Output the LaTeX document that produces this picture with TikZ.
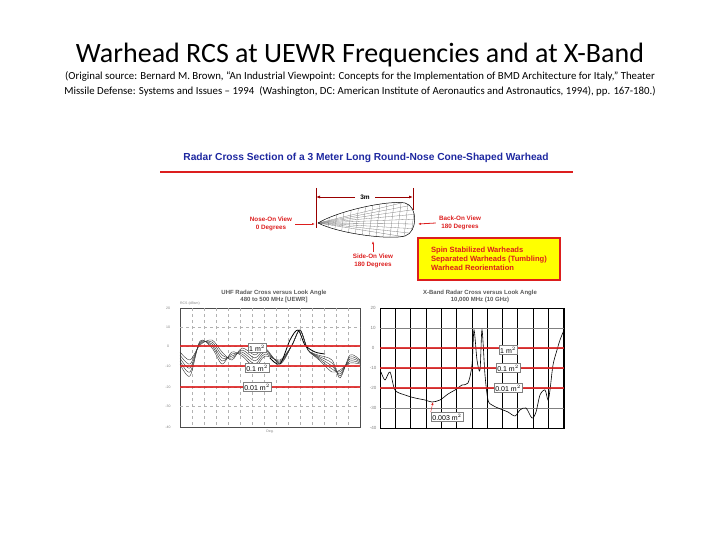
\documentclass[tikz,border=0pt]{standalone}
\usepackage{fontspec}
\setmainfont{Carlito}
\newfontfamily\arial{Liberation Sans}
\usetikzlibrary{arrows.meta}
\definecolor{ttl}{RGB}{30,40,160}
\definecolor{rd}{RGB}{220,30,30}
\definecolor{bx}{RGB}{255,255,0}
\begin{document}
\begin{tikzpicture}[x=1pt,y=-1pt,
 lab/.style={font=\arial\bfseries\fontsize{6.3}{7.5}\selectfont,text=rd,align=center,inner sep=0},
 hdr/.style={font=\arial\bfseries\fontsize{6}{7}\selectfont,text=gray!70!black,align=center,inner sep=0},
 rline/.style={rd,line width=2.2pt,opacity=0.85},
 tag/.style={draw=gray,fill=white,font=\arial\fontsize{7}{8}\selectfont,inner sep=1.5pt},
 grid/.style={black,line width=0.5pt},
 ax/.style={font=\arial\fontsize{3.5}{4}\selectfont,inner sep=0,text=gray}]
\useasboundingbox (0,0) rectangle (720,540);
\node (t) at (360,55) {\fontsize{28}{30}\selectfont Warhead RCS at UEWR Frequencies and at X-Band};
\node (s) at (360,84) [align=center,font=\fontsize{10.8}{15}\selectfont] {(Original source: Bernard M. Brown, ``An Industrial Viewpoint: Concepts for the Implementation of BMD Architecture for Italy,'' Theater\\Missile Defense: Systems and Issues -- 1994 \ (Washington, DC: American Institute of Aeronautics and Astronautics, 1994), pp. 167-180.)};
\node (bt) at (366,158) [font=\arial\bfseries\fontsize{10.2}{12}\selectfont,text=ttl] {Radar Cross Section of a 3 Meter Long Round-Nose Cone-Shaped Warhead};
\draw[rd,line width=1.5pt] (160,172) -- (573,172);
\coordinate (d1) at (316,197); \coordinate (d2) at (413,197);
\draw[line width=1pt,red!60!black] (316,188) -- (316,228) (413,188) -- (413,210);
\draw[-{Latex[length=4pt]},red!60!black,line width=0.8pt] (355,197) -- (d1);
\draw[-{Latex[length=4pt]},red!60!black,line width=0.8pt] (375,197) -- (d2);
\node (m) at (365,197) [font=\arial\bfseries\fontsize{6.5}{7}\selectfont,fill=white,inner sep=1pt] {3m};
\begin{scope}
\clip (318,223) .. controls (340,210) and (390,200) .. (405,203) .. controls (418,206) and (418,232) .. (405,236) .. controls (390,240) and (340,234) .. (318,223);
\foreach \i in {0,...,14} \draw[gray,line width=0.3pt] (318+7*\i,195) -- (312+7*\i,245);
\foreach \j in {-4,...,4} \draw[gray,line width=0.3pt] (318,223) -- (418,219+5*\j);
\end{scope}
\draw[line width=0.5pt] (318,223) .. controls (340,210) and (390,200) .. (405,203) .. controls (418,206) and (418,232) .. (405,236) .. controls (390,240) and (340,234) .. (318,223);
\node[lab] (n) at (271,224) {Nose-On View\\0 Degrees};
\draw[-{Latex[length=3pt]},rd,line width=0.8pt] (n.east) ++(3,0) -- (315,224);
\node[lab] (b) at (460,223) {Back-On View\\180 Degrees};
\draw[-{Latex[length=3pt]},rd,line width=0.8pt] (b.west) ++(-3,0) -- (418,224);
\node[lab] (so) at (373,261) {Side-On View\\180 Degrees};
\draw[-{Latex[length=3pt]},rd,line width=0.8pt] (so.north) ++(0,-2) -- (373,241);
\node (yb) at (489,259) [draw=rd,line width=1.5pt,fill=bx,minimum width=142pt,minimum height=42pt,inner sep=0] {};
\node at (yb) [font=\arial\bfseries\fontsize{7.6}{9}\selectfont,text=rd,align=left] {Spin Stabilized Warheads\\Separated Warheads (Tumbling)\\Warhead Reorientation};
\node[hdr] (h1) at (274,296) {UHF Radar Cross versus Look Angle\\480 to 500 MHz [UEWR]};
\node[hdr] (h2) at (480,296) {X-Band Radar Cross versus Look Angle\\10,000 MHz (10 GHz)};
\draw[black!70,line width=0.4pt] (180,308) rectangle (360,427);
\foreach \i in {1,...,14} \draw[gray!60,dashed,line width=0.3pt] (180+12*\i,308) -- (180+12*\i,427);
\foreach \y in {327,346,366,387,406} \draw[gray!60,dashed,line width=0.3pt] (180,\y) -- (360,\y);
\foreach \v/\y in {20/308,10/327,0/346,-10/366,-20/387,-30/406,-40/427} \node[ax] at (168,\y) {\v};
\node[ax] at (190,304) {RCS (dBsm)};
\node[ax] at (270,432) {Deg.};
\foreach \k in {0,...,4}
\draw[black!80,line width=0.4pt] plot[smooth] coordinates {(180,{352+3*\k}) (190,{360+4*\k}) (200,{345-1*\k}) (212,{340+2*\k}) (222,{352+3*\k}) (232,{360-2*\k}) (242,{348+2*\k}) (255,{355+3*\k}) (265,{348+2*\k}) (280,{364-\k}) (292,345) (300,330) (308,350) (318,{355+\k}) (332,{360+3*\k}) (340,{378-2*\k}) (350,{355+2*\k}) (360,{360+\k})};
\draw[black,line width=0.8pt] plot[smooth] coordinates {(270,358) (280,364) (290,340) (298,330) (305,345) (315,352) (325,354)};
\draw[rline] (180,346) -- (360,346) (180,366) -- (360,366) (180,387) -- (360,387);
\node[tag] at (257,348) {1 m$^2$};
\node[tag] at (257,368) {0.1 m$^2$};
\node[tag] at (257,387) {0.01 m$^2$};
\draw[black,line width=0.6pt] (380,308) rectangle (564,428);
\foreach \i in {1,...,12} \draw[grid] (380+15.3*\i,308) -- (380+15.3*\i,428);
\foreach \y in {328,348,368,388,408} \draw[black!50,line width=0.3pt] (380,\y) -- (564,\y);
\foreach \v/\y in {20/308,10/328,0/348,-10/368,-20/388,-30/408,-40/428} \node[ax,font=\arial\fontsize{4.5}{5}\selectfont] at (373,\y) {\v};
\draw[black,line width=0.6pt] plot[smooth] coordinates {(381,372) (385,380) (390,372) (395,390) (405,395) (415,398) (425,400) (432,402) (440,400) (448,394) (455,390) (462,385) (468,383) (472,365) (474,330) (477,360) (480,370) (482,330) (485,375) (488,400) (492,405) (498,408) (503,410) (508,412) (515,416) (520,410) (526,408) (532,418) (536,412) (540,395) (545,390) (548,400) (550,390) (553,365) (557,350) (560,340) (564,330)};
\draw[rline] (380,348) -- (564,348) (380,368) -- (564,368) (380,388) -- (564,388);
\node[tag] (r1) at (508,350) {1 m$^2$};
\node[tag] at (508,368) {0.1 m$^2$};
\node[tag] at (508,388) {0.01 m$^2$};
\node[tag] (r4) at (447,417) {0.003 m$^2$};
\draw[rd,-{Latex[length=3pt]}] (r4.north west) -- (433,402);
\end{tikzpicture}
\end{document}
